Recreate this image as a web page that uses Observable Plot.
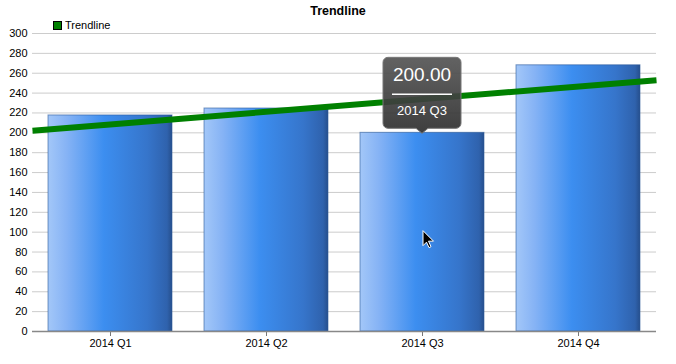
<!DOCTYPE html>
<html>
<head>
<meta charset="utf-8">
<script src="https://cdn.jsdelivr.net/npm/d3@7"></script>
<script src="https://cdn.jsdelivr.net/npm/@observablehq/plot@0.6"></script>
<style>
  html, body { margin: 0; padding: 0; background: #fff; }
  body { width: 676px; height: 364px; overflow: hidden; font-family: "Liberation Sans", Arial, sans-serif; }
  #title { position: relative; height: 16px; }
  #title span { position: absolute; left: 0; right: 0; top: 4px; text-align: center; font-weight: bold; font-size: 12.5px; line-height: 14px; color: #000; }
  #legend { position: relative; height: 8px; z-index: 2; overflow: visible; }
  #legend .sw { position: absolute; left: 53px; top: 5px; width: 7px; height: 7px; background: #008000; border: 1px solid #000; box-sizing: content-box; }
  #legend .lb { position: absolute; left: 65px; top: 3px; font-size: 11px; line-height: 13px; color: #000; }
  #chart { position: relative; z-index: 1; }
  #chart svg { display: block; }
</style>
</head>
<body>
<div id="title"><span>Trendline</span></div>
<div id="legend"><div class="sw"></div><div class="lb">Trendline</div></div>
<div id="chart"></div>
<script>
const categories = ["2014 Q1", "2014 Q2", "2014 Q3", "2014 Q4"];
const values = [217.5, 224.5, 200, 268];
const trendValues = [202, 253];          // trendline at left and right edges of the plot
const yTicks = d3.range(0, 301, 20);
const tooltipValue = "200.00";
const tooltipLabel = "2014 Q3";
const tooltipIndex = 2;

const data = categories.map((c, i) => ({i, c, v: values[i]}));
const hw = 62 / 156;
const trend = [{x: -0.5, y: trendValues[0]}, {x: categories.length - 0.5, y: trendValues[1]}];

const chart = Plot.plot({
  width: 676,
  height: 340,
  marginLeft: 32,
  marginRight: 20,
  marginTop: 9,
  marginBottom: 33,
  style: {fontFamily: "'Liberation Sans', Arial, sans-serif", fontSize: "11px", color: "#000", background: "transparent"},
  x: {type: "linear", domain: [-0.5, categories.length - 0.5]},
  y: {domain: [0, 300]},
  marks: [
    Plot.gridY(yTicks, {stroke: "#cccccc", strokeOpacity: 1}),
    Plot.axisY(yTicks, {tickSize: 0, tickPadding: 5, label: null, fill: "#000"}),
    Plot.axisX(data.map(d => d.i), {tickSize: 5, tickPadding: 3, label: null, tickFormat: i => categories[i], stroke: "#777", fill: "#000"}),
    Plot.rect(data, {x1: d => d.i - hw, x2: d => d.i + hw, y1: 0, y2: "v", fill: "url(#barGrad)", stroke: "#2d5a99", strokeWidth: 1, strokeOpacity: 0.6}),
    Plot.ruleY([0], {stroke: "#888", strokeWidth: 1.5}),
    Plot.line(trend, {x: "x", y: "y", stroke: "#008000", strokeWidth: 6, strokeLinecap: "butt"})
  ]
});

const svg = d3.select(chart);
const defs = svg.insert("defs", ":first-child");
const g = defs.append("linearGradient").attr("id", "barGrad").attr("x1", "0").attr("x2", "1").attr("y1", "0").attr("y2", "0");
[[0, "#a3c7f8"], [0.15, "#86b3f5"], [0.45, "#3c8ef0"], [0.8, "#3675cb"], [0.96, "#2f62ad"], [1, "#264f8c"]]
  .forEach(([o, c]) => g.append("stop").attr("offset", o).attr("stop-color", c));
const tg = defs.append("linearGradient").attr("id", "tipGrad").attr("x1", "0").attr("x2", "0").attr("y1", "0").attr("y2", "1");
[[0, "#555"], [1, "#2e2e2e"]].forEach(([o, c]) => tg.append("stop").attr("offset", o).attr("stop-color", c));

// Tooltip anchored at the Q3 bar top via the chart's own scales
const px = chart.scale("x").apply(tooltipIndex);
const py = chart.scale("y").apply(values[tooltipIndex]);
const tip = svg.append("g").attr("transform", `translate(${px},${py})`);
tip.append("path")
  .attr("d", "M-39,-70 a5,5 0 0 1 5,-5 h68 a5,5 0 0 1 5,5 v61 a5,5 0 0 1 -5,5 h-28 l-6,5 l-6,-5 h-28 a5,5 0 0 1 -5,-5 z")
  .attr("fill", "url(#tipGrad)").attr("fill-opacity", 0.92).attr("stroke", "#777").attr("stroke-width", 1);
tip.append("text").attr("x", 0).attr("y", -51).attr("text-anchor", "middle")
  .attr("font-size", 19).attr("fill", "#fff").attr("font-family", "'Liberation Sans', Arial, sans-serif").text(tooltipValue);
tip.append("line").attr("x1", -30).attr("x2", 30).attr("y1", -38).attr("y2", -38).attr("stroke", "#fff").attr("stroke-width", 1.5);
tip.append("text").attr("x", 0).attr("y", -17).attr("text-anchor", "middle")
  .attr("font-size", 13).attr("fill", "#fff").attr("font-family", "'Liberation Sans', Arial, sans-serif").text(tooltipLabel);

// mouse cursor
svg.append("path")
  .attr("transform", `translate(${px + 1},${chart.scale("y").apply(100) - 1})`)
  .attr("d", "M0,0 L0,15 L3.5,11.5 L6,17 L8,16 L5.5,10.5 L10.5,10.5 Z")
  .attr("fill", "#000").attr("stroke", "#fff").attr("stroke-width", 1);

document.getElementById("chart").appendChild(chart);
</script>
</body>
</html>
